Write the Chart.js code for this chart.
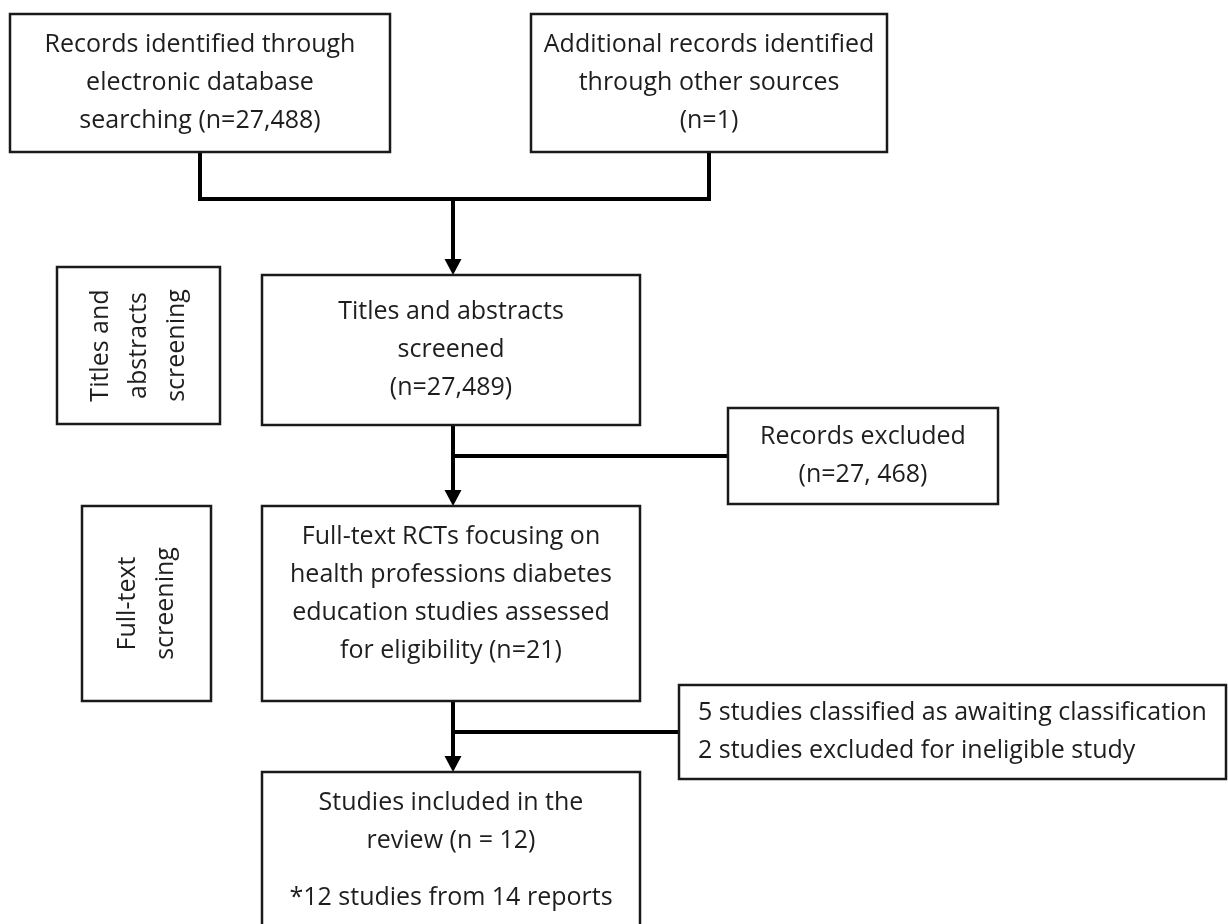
<!DOCTYPE html>
<html>
<head>
<meta charset="utf-8">
<script src="https://cdn.jsdelivr.net/npm/chart.js@4.4.1/dist/chart.umd.min.js"></script>
<style>
  html, body { margin: 0; padding: 0; background: #fff; }
  #wrap { width: 1228px; height: 924px; }
</style>
</head>
<body>
<div id="wrap"><canvas id="flow" width="1228" height="924"></canvas></div>
<script>
// box texts (one entry per line, '' = half-line gap)
const boxNames = ['search', 'other', 'screened', 'excluded', 'fulltext', 'awaiting', 'included', 'stageTA', 'stageFT'];
const boxText = [
  ['Records identified through', 'electronic database', 'searching (n=27,488)'],
  ['Additional records identified', 'through other sources', '(n=1)'],
  ['Titles and abstracts', 'screened', '(n=27,489)'],
  ['Records excluded', '(n=27, 468)'],
  ['Full-text RCTs focusing on', 'health professions diabetes', 'education studies assessed', 'for eligibility (n=21)', ''],
  ['5 studies classified as awaiting classification', '2 studies excluded for ineligible study'],
  ['Studies included in the', 'review (n = 12)', '', '*12 studies from 14 reports'],
  ['Titles and', 'abstracts', 'screening'],
  ['Full-text', 'screening']
];

// box frames in axis units: [left, top, right, bottom]
const boxFrames = [
  [10, 14, 390, 152],
  [531, 14, 887, 152],
  [262, 275, 640, 425],
  [728, 408, 998, 504],
  [262, 506, 640, 701],
  [679, 685, 1226, 779],
  [262, 772, 640, 928],
  [57, 267, 220, 424],
  [82, 506, 211, 701]
];
const boxAlign = ['center', 'center', 'center', 'center', 'center', 'left', 'center', 'rotated', 'rotated'];

// flow links: [from, to] box indices
const mergeFrom = [0, 1];
const mergeTo = 2;
const mergeY = 199;
const mainLinks = [[2, 4], [4, 6]];
const sideLinks = [[2, 3], [4, 5]];

const MAIN_X = 453;
const ARROW_H = 16, ARROW_W = 17;
const FONT = '"Open Sans", "DejaVu Sans", sans-serif';
const FONT_SIZE = 25, LINE_H = 38;

function cx(i){ return (boxFrames[i][0] + boxFrames[i][2]) / 2; }
function cy(i){ return (boxFrames[i][1] + boxFrames[i][3]) / 2; }

function buildLinks(){
  const sets = [];
  const merge = [
    { x: cx(mergeFrom[0]), y: boxFrames[mergeFrom[0]][3] },
    { x: cx(mergeFrom[0]), y: mergeY },
    { x: cx(mergeFrom[1]), y: mergeY },
    { x: cx(mergeFrom[1]), y: boxFrames[mergeFrom[1]][3] }
  ];
  sets.push(merge);
  sets.push([{ x: MAIN_X, y: mergeY }, { x: MAIN_X, y: boxFrames[mergeTo][1] - ARROW_H + 1 }]);
  mainLinks.forEach(([a, b]) => {
    sets.push([{ x: MAIN_X, y: boxFrames[a][3] }, { x: MAIN_X, y: boxFrames[b][1] - ARROW_H + 1 }]);
  });
  sideLinks.forEach(([a, b]) => {
    sets.push([{ x: MAIN_X, y: cy(b) }, { x: boxFrames[b][0], y: cy(b) }]);
  });
  return sets.map(pts => ({
    data: pts,
    showLine: true,
    borderColor: '#000',
    borderWidth: 4,
    borderJoinStyle: 'miter',
    pointRadius: 0,
    tension: 0
  }));
}

const boxesPlugin = {
  id: 'boxes',
  afterDatasetsDraw(chart){
    const { ctx, scales: { x, y } } = chart;
    ctx.save();
    // arrowheads
    const targets = [mergeTo].concat(mainLinks.map(l => l[1]));
    ctx.fillStyle = '#000';
    targets.forEach(t => {
      const px = x.getPixelForValue(MAIN_X);
      const py = y.getPixelForValue(boxFrames[t][1]);
      ctx.beginPath();
      ctx.moveTo(px, py);
      ctx.lineTo(px - ARROW_W / 2, py - ARROW_H);
      ctx.lineTo(px + ARROW_W / 2, py - ARROW_H);
      ctx.closePath();
      ctx.fill();
    });
    // boxes
    ctx.font = FONT_SIZE + 'px ' + FONT;
    ctx.textBaseline = 'middle';
    boxFrames.forEach((f, i) => {
      const l = x.getPixelForValue(f[0]), r = x.getPixelForValue(f[2]);
      const t = y.getPixelForValue(f[1]), b = y.getPixelForValue(f[3]);
      ctx.fillStyle = '#fff';
      ctx.fillRect(l, t, r - l, b - t);
      ctx.strokeStyle = '#1a1a1a';
      ctx.lineWidth = 2.5;
      ctx.strokeRect(l, t, r - l, b - t);

      const lines = boxText[i];
      const heights = lines.map(s => s === '' ? LINE_H / 2 : LINE_H);
      const total = heights.reduce((a, h) => a + h, 0);
      ctx.fillStyle = '#1e1e1e';
      if(boxAlign[i] === 'rotated'){
        ctx.save();
        ctx.translate((l + r) / 2, (t + b) / 2);
        ctx.rotate(-Math.PI / 2);
        ctx.textAlign = 'center';
        let off = -total / 2;
        lines.forEach((s, k) => {
          ctx.fillText(s, 0, off + heights[k] / 2);
          off += heights[k];
        });
        ctx.restore();
      } else {
        ctx.textAlign = boxAlign[i] === 'left' ? 'left' : 'center';
        const tx = boxAlign[i] === 'left' ? l + 19 : (l + r) / 2;
        let off = (t + b) / 2 - total / 2;
        lines.forEach((s, k) => {
          if(s !== '') ctx.fillText(s, tx, off + heights[k] / 2);
          off += heights[k];
        });
      }
    });
    ctx.restore();
  }
};

new Chart(document.getElementById('flow'), {
  type: 'scatter',
  data: { datasets: buildLinks() },
  options: {
    responsive: false,
    devicePixelRatio: 1,
    animation: false,
    layout: { padding: 0 },
    plugins: { legend: { display: false }, tooltip: { enabled: false } },
    scales: {
      x: { type: 'linear', min: 0, max: 1228, display: false },
      y: { type: 'linear', min: 0, max: 924, reverse: true, display: false }
    }
  },
  plugins: [boxesPlugin]
});
</script>
</body>
</html>
